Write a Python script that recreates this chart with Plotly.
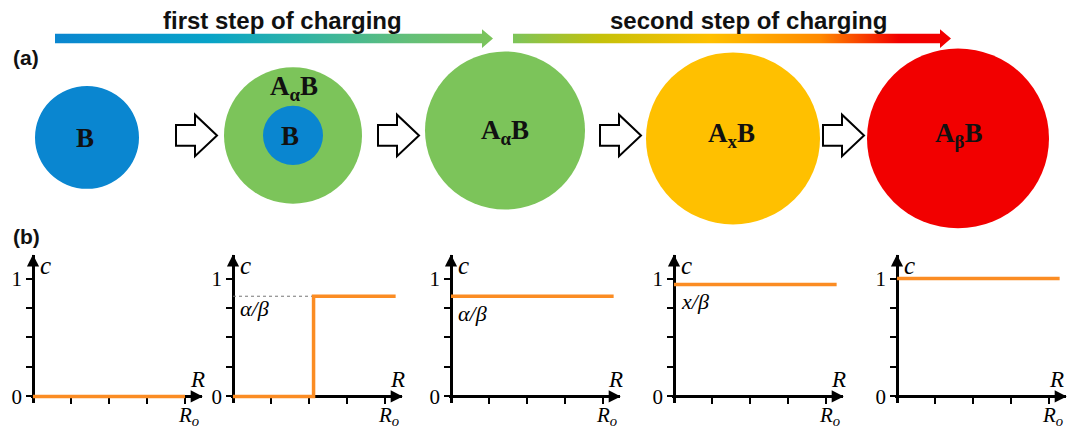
import plotly.graph_objects as go

W, H = 1067, 435

# ---------------- data ----------------
stage_labels = ["B", "A<sub>α</sub>B", "A<sub>α</sub>B", "A<sub>x</sub>B", "A<sub>β</sub>B"]
core_label = "B"
step_titles = ["first step of charging", "second step of charging"]
panel_letters = ["(a)", "(b)"]

# concentration profiles c(R) for the five stages (R normalised by Ro)
profile_R = [[0, 1.0], [0, 0.53, 0.53, 1.07], [0, 1.07], [0, 1.07], [0, 1.07]]
profile_c = [[0, 0], [0, 0, 0.85, 0.85], [0.85, 0.85], [0.95, 0.95], [1, 1]]
guide_R = [0, 0.53]
guide_c = [0.85, 0.85]
level_labels = [None, "α/β", "α/β", "x/β", None]
c_ticks = [0, 1]
c_ticktext = ["0", "1"]
c_minor_ticks = [0.25, 0.5, 0.75]
R_ticks = [0.25, 0.5, 0.75, 1]

# ---------------- layout constants ----------------
origins = [33, 233, 451, 674, 897]
PX_R = 152.0
PX_C = 119.2
Y0 = 401
R_MIN, R_END = -0.015, 1.112
C_MIN, C_END = -0.06, 1.2
ORANGE = "#fb8c23"
SERIF = "Liberation Serif"
SANS = "Liberation Sans"

fig = go.Figure()
layout = dict(
    width=W, height=H, margin=dict(l=0, r=0, t=0, b=0),
    paper_bgcolor="white", plot_bgcolor="rgba(0,0,0,0)", showlegend=False,
)
annotations = []
shapes = []

for i, ox in enumerate(origins):
    n = i + 1
    xa, ya = f"x{n}", f"y{n}"
    layout[f"xaxis{n}"] = dict(
        domain=[(ox + R_MIN * PX_R) / W, (ox + R_END * PX_R) / W],
        range=[R_MIN, R_END], anchor="free", position=1 - Y0 / H,
        showline=True, linecolor="black", linewidth=2.5,
        ticks="outside", ticklen=6, tickwidth=2, tickcolor="black",
        tickvals=R_ticks, showticklabels=False, showgrid=False, zeroline=False,
        layer="below traces", fixedrange=True,
    )
    layout[f"yaxis{n}"] = dict(
        domain=[1 - (Y0 - C_MIN * PX_C) / H, 1 - (Y0 - C_END * PX_C) / H],
        range=[C_MIN, C_END], anchor="free", position=ox / W,
        showline=True, linecolor="black", linewidth=2.5,
        ticks="outside", ticklen=6, tickwidth=2, tickcolor="black",
        tickvals=c_ticks, ticktext=c_ticktext,
        minor=dict(tickvals=c_minor_ticks, ticks="outside", ticklen=6, tickwidth=2,
                   tickcolor="black", showgrid=False),
        tickfont=dict(family=SERIF, size=21, color="black"),
        showgrid=False, zeroline=False, layer="below traces", fixedrange=True,
    )
    if i == 1:
        fig.add_trace(go.Scatter(x=guide_R, y=guide_c, mode="lines", xaxis=xa, yaxis=ya,
                                 line=dict(color="#777777", width=1, dash="dot"),
                                 hoverinfo="skip"))
    fig.add_trace(go.Scatter(x=profile_R[i], y=profile_c[i], mode="lines", xaxis=xa, yaxis=ya,
                             line=dict(color=ORANGE, width=3.5), hoverinfo="skip"))
    # axis arrowheads
    annotations.append(dict(x=R_END + 0.005, y=0, ax=R_END - 0.06, ay=0, xref=xa, yref=ya,
                            axref=xa, ayref=ya, text="", showarrow=True, arrowhead=2,
                            arrowsize=1.1, arrowwidth=2.2, arrowcolor="black"))
    annotations.append(dict(x=0, y=C_END + 0.005, ax=0, ay=C_END - 0.08, xref=xa, yref=ya,
                            axref=xa, ayref=ya, text="", showarrow=True, arrowhead=2,
                            arrowsize=1.1, arrowwidth=2.2, arrowcolor="black"))
    # axis titles
    annotations.append(dict(x=0.085, y=1.11, xref=xa, yref=ya, text="<i>c</i>", showarrow=False,
                            font=dict(family=SERIF, size=25, color="black")))
    annotations.append(dict(x=1.08 if i < 4 else 1.05, y=0.14, xref=xa, yref=ya,
                            text="<i>R</i>", showarrow=False,
                            font=dict(family=SERIF, size=23, color="black")))
    annotations.append(dict(x=ox + 1.02 * PX_R, y=421, xref="x6", yref="y6",
                            text="<i>R<sub>o</sub></i>",
                            showarrow=False, font=dict(family=SERIF, size=21, color="black")))
    if level_labels[i]:
        ly = profile_c[i][-1] - (0.10 if i == 1 else 0.145)
        annotations.append(dict(x=0.03, y=ly, xref=xa, yref=ya, xanchor="left",
                                text=f"<i>{level_labels[i]}</i>", showarrow=False,
                                font=dict(family=SERIF, size=22, color="black")))

# ---------------- top diagram on an overlay pixel axis ----------------
layout["xaxis6"] = dict(domain=[0, 1], range=[0, W], visible=False, fixedrange=True)
layout["yaxis6"] = dict(domain=[0, 1], range=[H, 0], visible=False, fixedrange=True, anchor="x6")

def block_arrow(x0, x1, ymid, shaft_h, head_h, head_len):
    xb = x1 - head_len
    xs = [x0, xb, xb, x1, xb, xb, x0, x0]
    ys = [ymid - shaft_h / 2, ymid - shaft_h / 2, ymid - head_h / 2, ymid,
          ymid + head_h / 2, ymid + shaft_h / 2, ymid + shaft_h / 2, ymid - shaft_h / 2]
    return xs, ys

grad_scales = [
    [[0, "#0a86d0"], [0.35, "#07a3c8"], [0.55, "#2cb2a8"], [0.8, "#62bf7a"], [1, "#7cc45a"]],
    [[0, "#7cc45a"], [0.2, "#c5c10a"], [0.45, "#ffc000"], [0.7, "#ff8a00"], [0.88, "#f20000"], [1, "#f20000"]],
]
for (x0, x1), sc, title, tx in zip([(55, 493), (513, 951)], grad_scales, step_titles, [282, 748]):
    xs, ys = block_arrow(x0, x1, 39, 9.5, 19, 11)
    fig.add_trace(go.Scatter(x=xs, y=ys, xaxis="x6", yaxis="y6", mode="lines", fill="toself",
                             line=dict(width=0, color="rgba(0,0,0,0)"),
                             fillgradient=dict(type="horizontal", colorscale=sc),
                             hoverinfo="skip"))
    annotations.append(dict(x=tx, y=21, xref="x6", yref="y6", text=f"<b>{title}</b>",
                            showarrow=False, font=dict(family=SANS, size=24, color="#111111")))

# circles
circles = [(87, 139, 52, "#0a86d0"), (293, 137, 69, "#7cc45a"), (293, 137, 30, "#0a86d0"),
           (505, 132, 80, "#7cc45a"), (733, 140, 87, "#ffc000"), (958, 140, 91, "#f20000")]
for cx, cy, r, col in circles:
    shapes.append(dict(type="circle", xref="x6", yref="y6", x0=cx - r, x1=cx + r,
                       y0=cy - r, y1=cy + r, fillcolor=col, line=dict(width=0), layer="below"))

# hollow arrows between stages
for x0 in [176, 378, 600, 823]:
    xs, ys = block_arrow(x0, x0 + 41, 137, 21, 42, 22)
    path = "M " + " L ".join(f"{a} {b}" for a, b in zip(xs, ys)) + " Z"
    shapes.append(dict(type="path", xref="x6", yref="y6", path=path, fillcolor="white",
                       line=dict(color="black", width=2), layer="above"))

label_pos = [(85, 140), (294, 89), (505, 134), (731, 137), (958, 137)]
lab_font = dict(family=SERIF, size=27, color="#111111")
for (lx, ly), lab in zip(label_pos, stage_labels):
    annotations.append(dict(x=lx, y=ly, xref="x6", yref="y6", text=f"<b>{lab}</b>",
                            showarrow=False, font=lab_font))
annotations.append(dict(x=290, y=138, xref="x6", yref="y6", text=f"<b>{core_label}</b>",
                        showarrow=False, font=lab_font))

annotations.append(dict(x=26, y=58, xref="x6", yref="y6", text=f"<b>{panel_letters[0]}</b>",
                        showarrow=False, font=dict(family=SANS, size=21, color="#111111")))
annotations.append(dict(x=26, y=239, xref="x6", yref="y6", text=f"<b>{panel_letters[1]}</b>",
                        showarrow=False, font=dict(family=SANS, size=21, color="#111111")))

layout["annotations"] = annotations
layout["shapes"] = shapes
fig.update_layout(**layout)
fig.write_html("out.html")
